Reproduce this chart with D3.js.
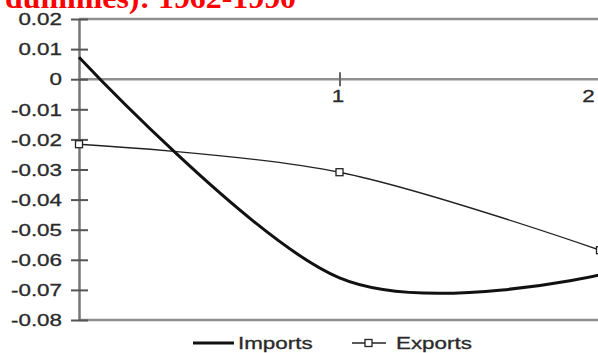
<!DOCTYPE html>
<html>
<head>
<meta charset="utf-8">
<script src="https://cdn.jsdelivr.net/npm/d3@7"></script>
<style>
  html, body { margin: 0; padding: 0; background: #fff; }
  svg { display: block; }
</style>
</head>
<body>
<svg id="chart" width="598" height="353"></svg>
<script>
// Estimated effects by lag
const lags = [0, 1, 2];
const imports = [0.0073, -0.066, -0.065];
const exports = [-0.0216, -0.0309, -0.0568];
const yTicks = [0.02, 0.01, 0, -0.01, -0.02, -0.03, -0.04, -0.05, -0.06, -0.07, -0.08];
const xTicks = [1, 2];
const titleText = "dummies): 1962-1990";
const seriesNames = ["Imports", "Exports"];

const svg = d3.select("#chart");
const x = d3.scaleLinear().domain([0, 2]).range([79, 600]);
const y = d3.scaleLinear().domain([-0.08, 0.02]).range([320, 19]);
const axisGrey = "#8f8f8f";
const textCol = "#2a2a2a";
const sansFont = "Liberation Sans, Arial, sans-serif";
const stretch = 1.4;   // wide sans lettering
const fmt = d3.formatLocale({ decimal: ".", thousands: ",", grouping: [3], currency: ["", ""], minus: "-" });

// Title (runs off the top of the frame)
svg.append("text")
  .attr("x", 5).attr("y", 8)
  .attr("font-family", "Liberation Serif, Times New Roman, serif")
  .attr("font-weight", "bold")
  .attr("font-size", 30)
  .attr("fill", "#ff0000")
  .attr("textLength", 291)
  .attr("lengthAdjust", "spacingAndGlyphs")
  .text(titleText);

// Frame lines: top and bottom
[0.02, -0.08].forEach(v => {
  svg.append("line")
    .attr("x1", 79).attr("x2", 598)
    .attr("y1", y(v)).attr("y2", y(v))
    .attr("stroke", axisGrey).attr("stroke-width", 2.5);
});

// Zero line with category ticks
svg.append("line")
  .attr("x1", 79).attr("x2", 598)
  .attr("y1", y(0)).attr("y2", y(0))
  .attr("stroke", axisGrey).attr("stroke-width", 2.5);

const xAxis = d3.axisBottom(x).tickValues(xTicks).tickSize(0).tickPadding(0)
  .tickFormat(fmt.format("d"));
const gx = svg.append("g").attr("transform", `translate(0,${y(0)})`).call(xAxis);
gx.select(".domain").remove();
gx.selectAll(".tick line").remove();
gx.selectAll(".tick").append("line")
  .attr("x1", 0).attr("x2", 0).attr("y1", -7).attr("y2", 7)
  .attr("stroke", "#666").attr("stroke-width", 2);
gx.selectAll(".tick text")
  .attr("y", 23).attr("dy", null)
  .attr("x", d => (d === 2 ? -12 : -2) / stretch)
  .attr("transform", `scale(${stretch},1)`)
  .attr("font-family", sansFont).attr("font-size", 16)
  .attr("fill", textCol).attr("stroke", textCol).attr("stroke-width", 0.3);

// Value axis
const yAxis = d3.axisLeft(y).tickValues(yTicks).tickSize(0).tickPadding(17)
  .tickFormat(d => d === 0 ? "0" : fmt.format(".2f")(d));
const gy = svg.append("g").attr("transform", "translate(79,0)").call(yAxis);
gy.select(".domain").attr("stroke", "#777").attr("stroke-width", 2.5);
gy.selectAll(".tick").append("line")
  .attr("x1", -8).attr("x2", 9)
  .attr("stroke", "#555").attr("stroke-width", 2);
gy.selectAll(".tick text")
  .attr("x", -17 / stretch)
  .attr("transform", `scale(${stretch},1)`)
  .attr("font-family", sansFont).attr("font-size", 16)
  .attr("fill", textCol).attr("stroke", textCol).attr("stroke-width", 0.3)
  .attr("dy", "0.36em");

// Series lines (smoothed)
const line = d3.line().x((d, i) => x(lags[i])).y(d => y(d))
  .curve(d3.curveCardinal.tension(0));

const plot = svg.append("g");
plot.append("path").datum(exports)
  .attr("d", line).attr("fill", "none")
  .attr("stroke", "#222").attr("stroke-width", 1.4);
plot.append("path").datum(imports)
  .attr("d", line).attr("fill", "none")
  .attr("stroke", "#111").attr("stroke-width", 3);

plot.selectAll("rect.mk").data(exports).join("rect")
  .attr("class", "mk")
  .attr("x", (d, i) => x(lags[i]) - 3.5)
  .attr("y", d => y(d) - 3.5)
  .attr("width", 7).attr("height", 7)
  .attr("fill", "#fff").attr("stroke", "#222").attr("stroke-width", 1.3);

// Legend
const lg = svg.append("g");
lg.append("line").attr("x1", 193).attr("x2", 234).attr("y1", 343).attr("y2", 343)
  .attr("stroke", "#111").attr("stroke-width", 3);
lg.append("line").attr("x1", 352).attr("x2", 386).attr("y1", 343).attr("y2", 343)
  .attr("stroke", "#222").attr("stroke-width", 1.4);
lg.append("rect").attr("x", 365).attr("y", 339.5).attr("width", 7).attr("height", 7)
  .attr("fill", "#fff").attr("stroke", "#222").attr("stroke-width", 1.3);
lg.selectAll("text.lab").data(seriesNames).join("text")
  .attr("class", "lab")
  .attr("x", (d, i) => (i === 0 ? 238 : 396) / stretch)
  .attr("y", 349)
  .attr("transform", `scale(${stretch},1)`)
  .attr("font-family", sansFont).attr("font-size", 16)
  .attr("fill", textCol).attr("stroke", textCol).attr("stroke-width", 0.3)
  .text(d => d);
</script>
</body>
</html>
